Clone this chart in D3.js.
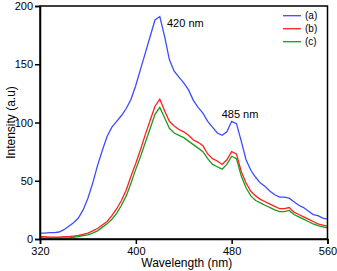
<!DOCTYPE html>
<html><head><meta charset="utf-8">
<script src="https://cdn.jsdelivr.net/npm/d3@7"></script>
<style>body{margin:0;background:#fff}svg{display:block}text{font-family:"Liberation Sans",Arial,sans-serif}</style>
</head><body><svg id="c" width="337" height="271"></svg>
<script>
const wavelengths = d3.range(320, 561, 4);
const seriesA = [5,5,5.5,5.5,6,8,11,14,18,25,35,48,63,76,88,96,101,106,112,120,132,146,160,174,188,191,174,154,144,139,134,128,119,113,108,101,96,91,89,92,101,99,84,68,59,53,48,45,41,38,36,36,35,32,29,27,24,21,20,18,17];
const seriesB = [2,2,1.5,1.5,1.5,2,2,2.5,3,4,5,7,9,12,15,20,26,33,42,54,65,77,90,102,114,120,110,101,97,94,92,89,85,83,80,73,69,67,64,68,75,73,58,48,41,37,34,32,30,28,26,26,27,23,21,19,17,15,13,12,11];
const seriesC = [1,1,1,1,1,1,1,1.5,2,3,3.5,5,7,10,13,17,22,29,37,48,60,71,83,95,107,113,104,95,91,89,87,84,81,78,75,69,64,62,60,64,71,69,54,44,37,33,31,29,27,25,23.5,23.5,24.5,21,19,17,15,13,11.5,10.5,9.5];
const seriesNames = ["(a)","(b)","(c)"];
const seriesColors = ["#3b4cff","#ff1f1f","#1f9a1f"];
const xTicks = [320,400,480,560];
const yTicks = [0,50,100,150,200];
const annotations = [{label:"420 nm", x:426, y:182}, {label:"485 nm", x:487, y:104}];

const svg = d3.select("#c");
const m = {l:40, r:9.5, t:6, b:32};
const W = 337, H = 271;
const x = d3.scaleLinear().domain([320,560]).range([m.l, W - m.r]);
const y = d3.scaleLinear().domain([0,200]).range([H - m.b, m.t]);

const data = [seriesA, seriesB, seriesC];
const line = d3.line().x((d,i)=>x(wavelengths[i])).y(d=>y(d));
data.forEach((s,k)=>{
  svg.append("path").attr("d", line(s)).attr("fill","none")
    .attr("stroke", seriesColors[k]).attr("stroke-width",1.3);
});

// frame
svg.append("rect").attr("x", m.l).attr("y", m.t).attr("width", W-m.r-m.l).attr("height", H-m.b-m.t)
  .attr("fill","none").attr("stroke","#000").attr("stroke-width",1.5);

const xa = svg.append("g").attr("transform",`translate(0,${H-m.b})`)
  .call(d3.axisBottom(x).tickValues(xTicks).tickSize(5).tickPadding(3).tickFormat(d3.format("d")));
const ya = svg.append("g").attr("transform",`translate(${m.l},0)`)
  .call(d3.axisLeft(y).tickValues(yTicks).tickSize(5).tickPadding(2).tickFormat(d3.format("d")));
[xa,ya].forEach(a=>{
  a.select(".domain").attr("stroke","#000").attr("stroke-width",1.5);
  a.selectAll(".tick line").attr("stroke","#000").attr("stroke-width",1.5);
  a.selectAll(".tick text").attr("font-size",11).attr("fill","#000").style("font-family","Liberation Sans, Arial, sans-serif");
});

svg.append("text").attr("x", (m.l + W - m.r)/2 + 3).attr("y", 267).attr("text-anchor","middle")
  .attr("font-size",12).text("Wavelength (nm)");
svg.append("text").attr("transform",`translate(15,${(m.t + H - m.b)/2}) rotate(-90)`).attr("text-anchor","middle")
  .attr("font-size",12).text("Intensity (a.u)");

annotations.forEach(a=>{
  svg.append("text").attr("x", x(a.x)).attr("y", y(a.y)).attr("font-size",11).text(a.label)
    .attr("text-anchor", a.label==="420 nm" ? "start" : "middle");
});

// legend
seriesNames.forEach((n,k)=>{
  const ly = 15.7 + k*13;
  svg.append("line").attr("x1",283).attr("x2",301).attr("y1",ly).attr("y2",ly)
    .attr("stroke",seriesColors[k]).attr("stroke-width",1.3);
  svg.append("text").attr("x",305).attr("y",ly+3.5).attr("font-size",10).text(n);
});
</script></body></html>
